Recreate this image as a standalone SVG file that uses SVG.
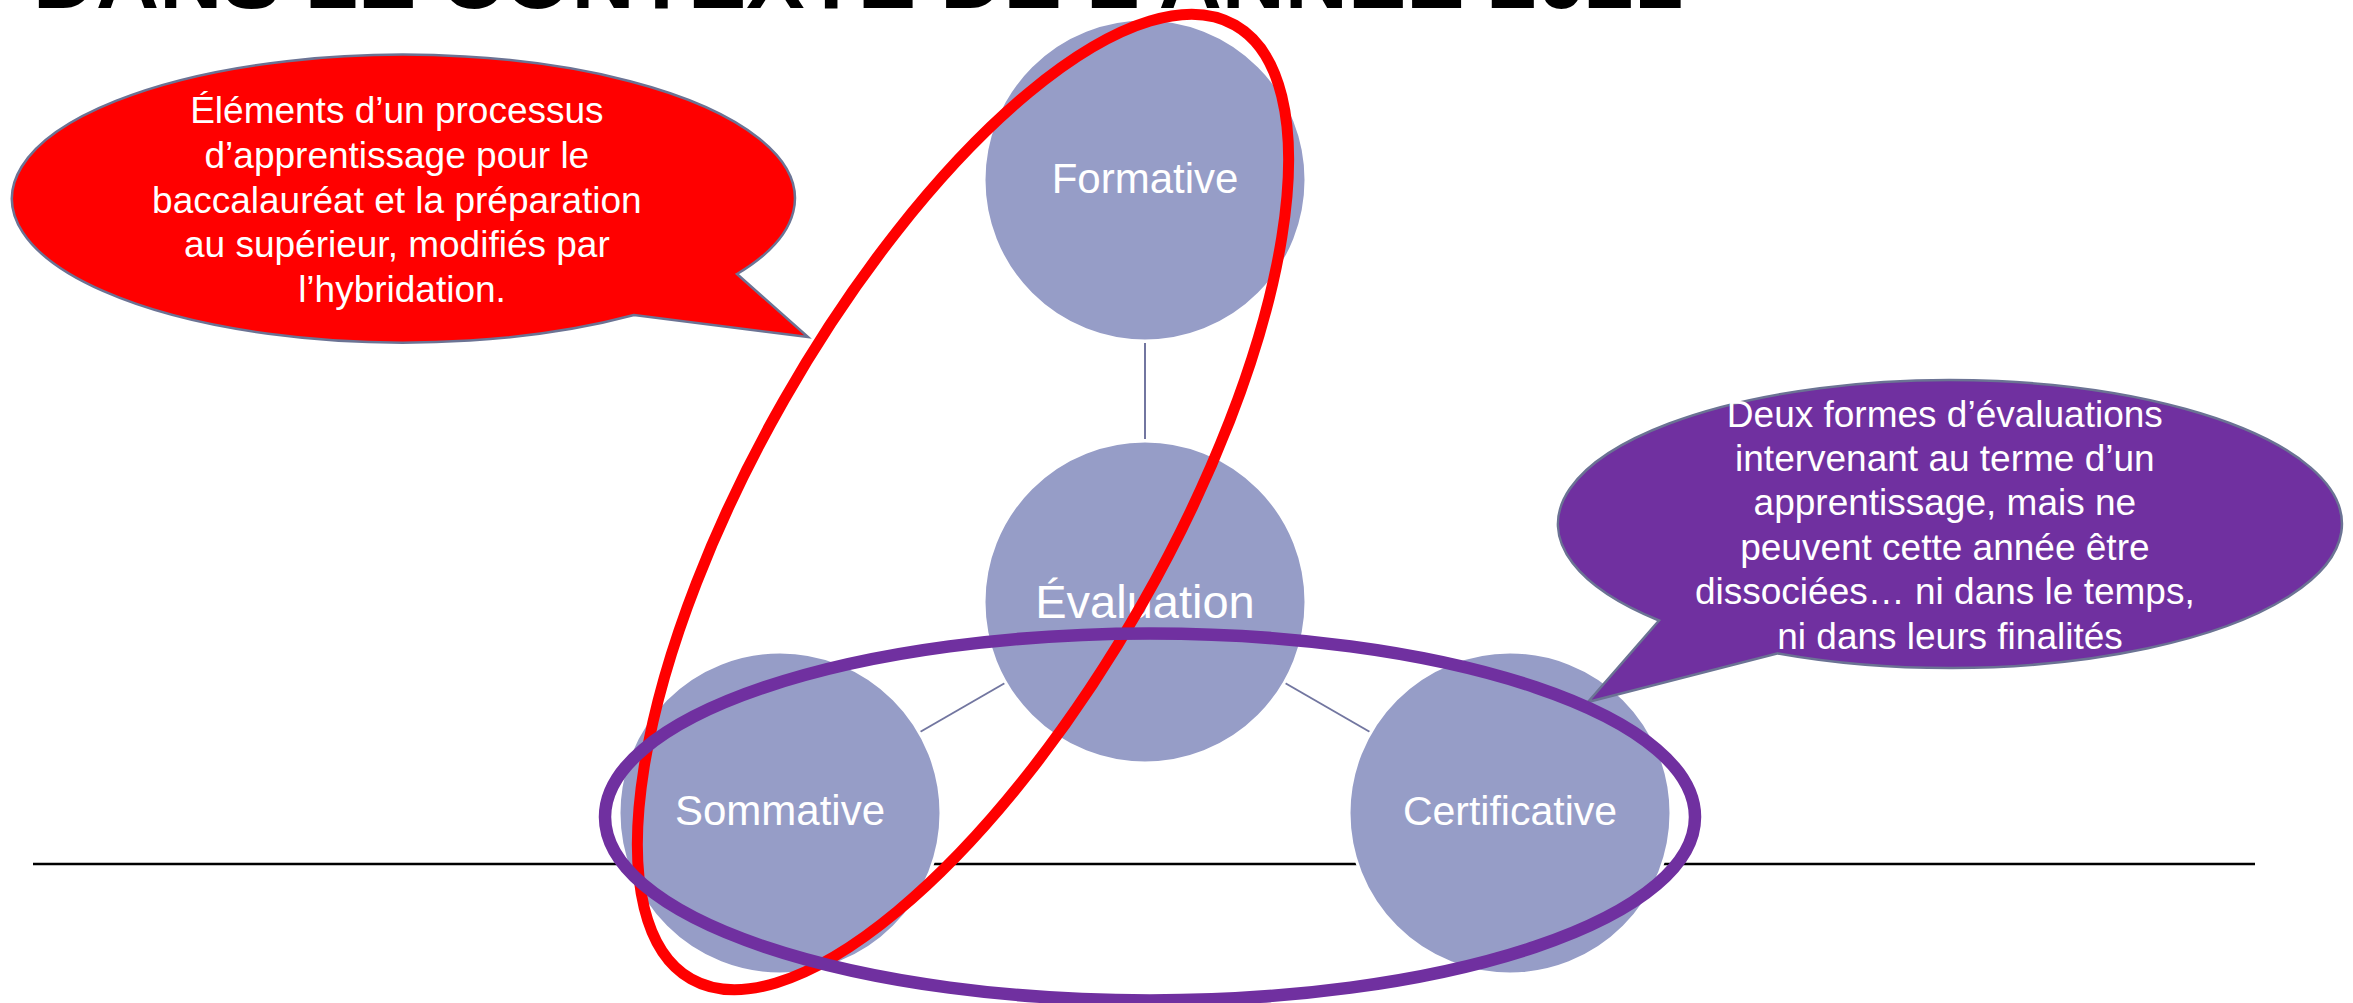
<svg xmlns="http://www.w3.org/2000/svg" width="2353" height="1003" viewBox="0 0 2353 1003">
<style>
.node{fill:#969DC7;stroke:#FFFFFF;stroke-width:3}
.nlabel{font-family:"Liberation Sans",Arial,sans-serif;fill:#FFFFFF;text-anchor:middle}
.conn{stroke:#7276A0;stroke-width:2;fill:none}
.callout-text{font-family:"Liberation Sans",Arial,sans-serif;font-size:37px;fill:#FFFFFF;text-anchor:middle}
.bubble{stroke:#6B7394;stroke-width:2.5}
</style>
<rect width="2353" height="1003" fill="#FFFFFF"/>
<text x="33" y="8" font-family="'Liberation Sans',Arial,sans-serif" font-weight="bold" font-size="86" fill="#000000" textLength="1650" lengthAdjust="spacingAndGlyphs">DANS LE CONTEXTE DE L’ANNÉE 2021</text>
<line x1="33" y1="864" x2="2255" y2="864" stroke="#000000" stroke-width="2.5"/>
<g id="connectors">
<line class="conn" x1="1145" y1="343" x2="1145" y2="439"/>
<line class="conn" x1="1005" y1="683" x2="920" y2="732"/>
<line class="conn" x1="1285" y1="683" x2="1370" y2="732"/>
</g>
<g id="formative">
<circle class="node" cx="1145" cy="180" r="161"/>
<text class="nlabel" x="1145" y="193" font-size="42">Formative</text>
</g>
<g id="evaluation">
<circle class="node" cx="1145" cy="602" r="161"/>
<text class="nlabel" x="1145" y="618" font-size="47">Évaluation</text>
</g>
<g id="sommative">
<circle class="node" cx="780" cy="813" r="161"/>
<text class="nlabel" x="780" y="825" font-size="42">Sommative</text>
</g>
<g id="certificative">
<circle class="node" cx="1510" cy="813" r="161"/>
<text class="nlabel" x="1510" y="825" font-size="41">Certificative</text>
</g>
<g id="callout-red">
<path class="bubble" fill="#FF0000" d="M 737 274 L 808 337 L 634 315 A 391.5 144 0 1 1 737 274 Z"/>
<text class="callout-text">
<tspan x="402" y="123.3">Éléments d’un processus</tspan>
<tspan x="402" y="168">d’apprentissage pour le</tspan>
<tspan x="402" y="212.7">baccalauréat et la préparation</tspan>
<tspan x="402" y="257.4">au supérieur, modifiés par</tspan>
<tspan x="402" y="302.1">l’hybridation.</tspan>
</text>
</g>
<g id="callout-purple">
<path class="bubble" fill="#7030A0" d="M 1659 620.5 L 1588 702 L 1778 653.4 A 392 144 0 1 0 1659 620.5 Z"/>
<text class="callout-text">
<tspan x="1950" y="426.5">Deux formes d’évaluations</tspan>
<tspan x="1950" y="470.9">intervenant au terme d’un</tspan>
<tspan x="1950" y="515.3">apprentissage, mais ne</tspan>
<tspan x="1950" y="559.7">peuvent cette année être</tspan>
<tspan x="1950" y="604.1">dissociées… ni dans le temps,</tspan>
<tspan x="1950" y="648.5">ni dans leurs finalités</tspan>
</text>
</g>
<g id="red-ellipse">
<ellipse cx="963" cy="502" rx="549" ry="206" transform="rotate(-60.3 963 502)" fill="none" stroke="#FF0000" stroke-width="11"/>
</g>
<g id="purple-ellipse">
<ellipse cx="1150" cy="817" rx="545" ry="183.5" fill="none" stroke="#7030A0" stroke-width="12.5"/>
</g>
</svg>
